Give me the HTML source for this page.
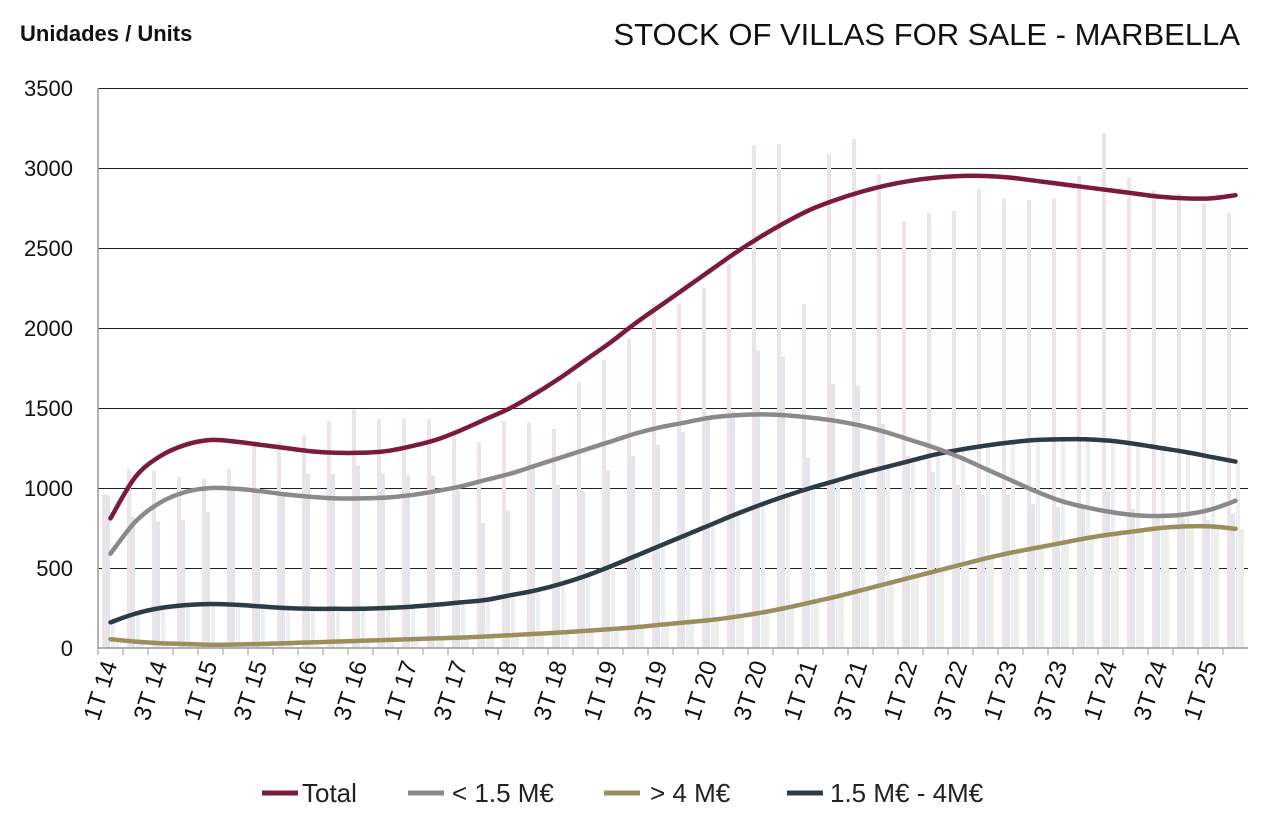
<!DOCTYPE html>
<html><head><meta charset="utf-8"><style>
body{margin:0;background:#fff;width:1277px;height:834px;overflow:hidden;font-family:"Liberation Sans",sans-serif}
</style></head><body>
<svg id="chart" width="1277" height="834" xmlns="http://www.w3.org/2000/svg">
<text x="20" y="41" font-size="22" font-weight="bold" fill="#111">Unidades / Units</text>
<text x="1240" y="45" text-anchor="end" font-size="31" fill="#111">STOCK OF VILLAS FOR SALE - MARBELLA</text>
<g id="grid"></g><g id="bars"></g><g id="lines"></g><g id="axes"></g>
<g font-size="26" fill="#222">
<line x1="262" y1="793" x2="298" y2="793" stroke="#7b1a3e" stroke-width="5"/><text x="302" y="802">Total</text>
<line x1="408" y1="793" x2="444" y2="793" stroke="#8a8a8a" stroke-width="5"/><text x="452" y="802">&lt; 1.5 M€</text>
<line x1="604" y1="793" x2="640" y2="793" stroke="#9a8f5c" stroke-width="5"/><text x="650" y="802">&gt; 4 M€</text>
<line x1="787" y1="793" x2="823" y2="793" stroke="#2e3a44" stroke-width="5"/><text x="830" y="802">1.5 M€ - 4M€</text>
</g>
</svg>
<script>
const yTicks=[0,500,1000,1500,2000,2500,3000,3500];
const barTotal=[960,1120,1110,1070,1060,1120,1270,1290,1330,1420,1490,1430,1430,1430,1350,1290,1420,1410,1370,1660,1800,1930,2150,2150,2250,2400,3140,3150,2150,3090,3180,2960,2670,2720,2730,2870,2810,2800,2810,2950,3220,2940,2860,2840,2780,2720];
const barUnder=[955,820,790,800,850,1000,1000,960,1090,1090,1140,1090,1080,1080,1000,780,860,1140,1020,980,1110,1200,1270,1350,1430,1480,1860,1820,1190,1650,1640,1400,1200,1100,1020,960,960,900,880,870,980,870,830,850,800,840];
const lineTotal=[810,1070,1200,1270,1300,1290,1270,1250,1230,1220,1220,1230,1260,1300,1360,1430,1500,1590,1690,1800,1910,2030,2140,2250,2360,2470,2570,2660,2740,2800,2850,2890,2920,2940,2950,2950,2940,2920,2900,2880,2860,2840,2820,2810,2810,2830];
const lineUnder=[590,790,910,975,1000,995,980,960,945,935,935,940,955,980,1010,1050,1090,1140,1190,1240,1290,1340,1380,1410,1440,1455,1460,1455,1440,1420,1390,1350,1300,1250,1190,1120,1050,980,920,880,850,830,825,835,865,920];
const lineOver4=[55,40,30,25,20,22,25,30,35,40,45,50,55,60,65,72,80,88,97,107,118,130,145,160,175,195,220,250,285,320,360,400,440,480,520,560,595,625,655,685,710,730,750,760,760,745];
const lineMid=[160,215,250,268,275,270,260,250,245,245,245,250,258,270,285,300,330,360,400,450,510,575,640,705,770,835,895,950,1000,1045,1090,1130,1170,1210,1240,1265,1285,1300,1305,1305,1295,1275,1250,1225,1195,1165];
const labels=[];for(let i=0;i<46;i++){const y=14+Math.floor(i/4);const q=i%4;labels.push(q===0?"1T "+y:q===2?"3T "+y:"");}
const NS="http://www.w3.org/2000/svg";
const X0=98,W=25,Y0=648,K=0.16;
const xs=i=>X0+W/2+i*W, ys=v=>Y0-v*K;
function mk(t,a,p){const e=document.createElementNS(NS,t);for(const k in a)e.setAttribute(k,a[k]);document.getElementById(p).appendChild(e);return e;}
yTicks.forEach(v=>{
 if(v>0){const l=mk('line',{x1:X0,x2:1248,y1:ys(v)+0.5,y2:ys(v)+0.5,stroke:'#222','stroke-width':1},'grid');
 
 }
 const t=mk('text',{x:73,y:ys(v)+8,'text-anchor':'end','font-size':22,fill:'#111'},'axes');t.textContent=v;
 
 
});
function bars(arr,off,col){arr.forEach((v,i)=>{const r=mk('rect',{x:X0+i*W+off,y:ys(v),width:4,height:v*K,fill:col},'bars');
 
 });}
bars(barTotal,4,'#eee3e6');bars(barUnder,8,'#e2e5ec');bars(lineMid,13,'#eceef1');bars(lineOver4,17,'#efefea');
function path(arr,col,name){const p=arr.map((v,i)=>[xs(i),ys(v)]);let d='M'+p[0][0]+','+p[0][1];
 for(let i=0;i<p.length-1;i++){const p0=p[Math.max(i-1,0)],p1=p[i],p2=p[i+1],p3=p[Math.min(i+2,p.length-1)];
 d+=` C${p1[0]+(p2[0]-p0[0])/6},${p1[1]+(p2[1]-p0[1])/6} ${p2[0]-(p3[0]-p1[0])/6},${p2[1]-(p3[1]-p1[1])/6} ${p2[0]},${p2[1]}`;}
 const e=mk('path',{d:d,fill:'none',stroke:col,'stroke-width':4.5,'stroke-linecap':'round'},'lines');
 
 }
path(lineOver4,'#9a8f5c','line-over-4m');path(lineMid,'#2e3a44','line-1-5-to-4m');path(lineUnder,'#8a8a8a','line-under-1-5m');path(lineTotal,'#7b1a3e','line-total');
mk('line',{x1:X0,x2:X0,y1:88,y2:Y0,stroke:'#999','stroke-width':1.5},'axes');
mk('line',{x1:X0,x2:1248,y1:Y0,y2:Y0,stroke:'#999','stroke-width':1.5},'axes');
labels.forEach((s,i)=>{mk('line',{x1:X0+i*W,x2:X0+i*W,y1:Y0,y2:Y0+7,stroke:'#999'},'axes');
 if(s){const x=xs(i)+7,y=Y0+16;const t=mk('text',{x:x,y:y,'text-anchor':'end','font-size':24,fill:'#111',transform:`rotate(-72 ${x} ${y})`},'axes');t.textContent=s;
 
 }});
</script>
</body></html>
